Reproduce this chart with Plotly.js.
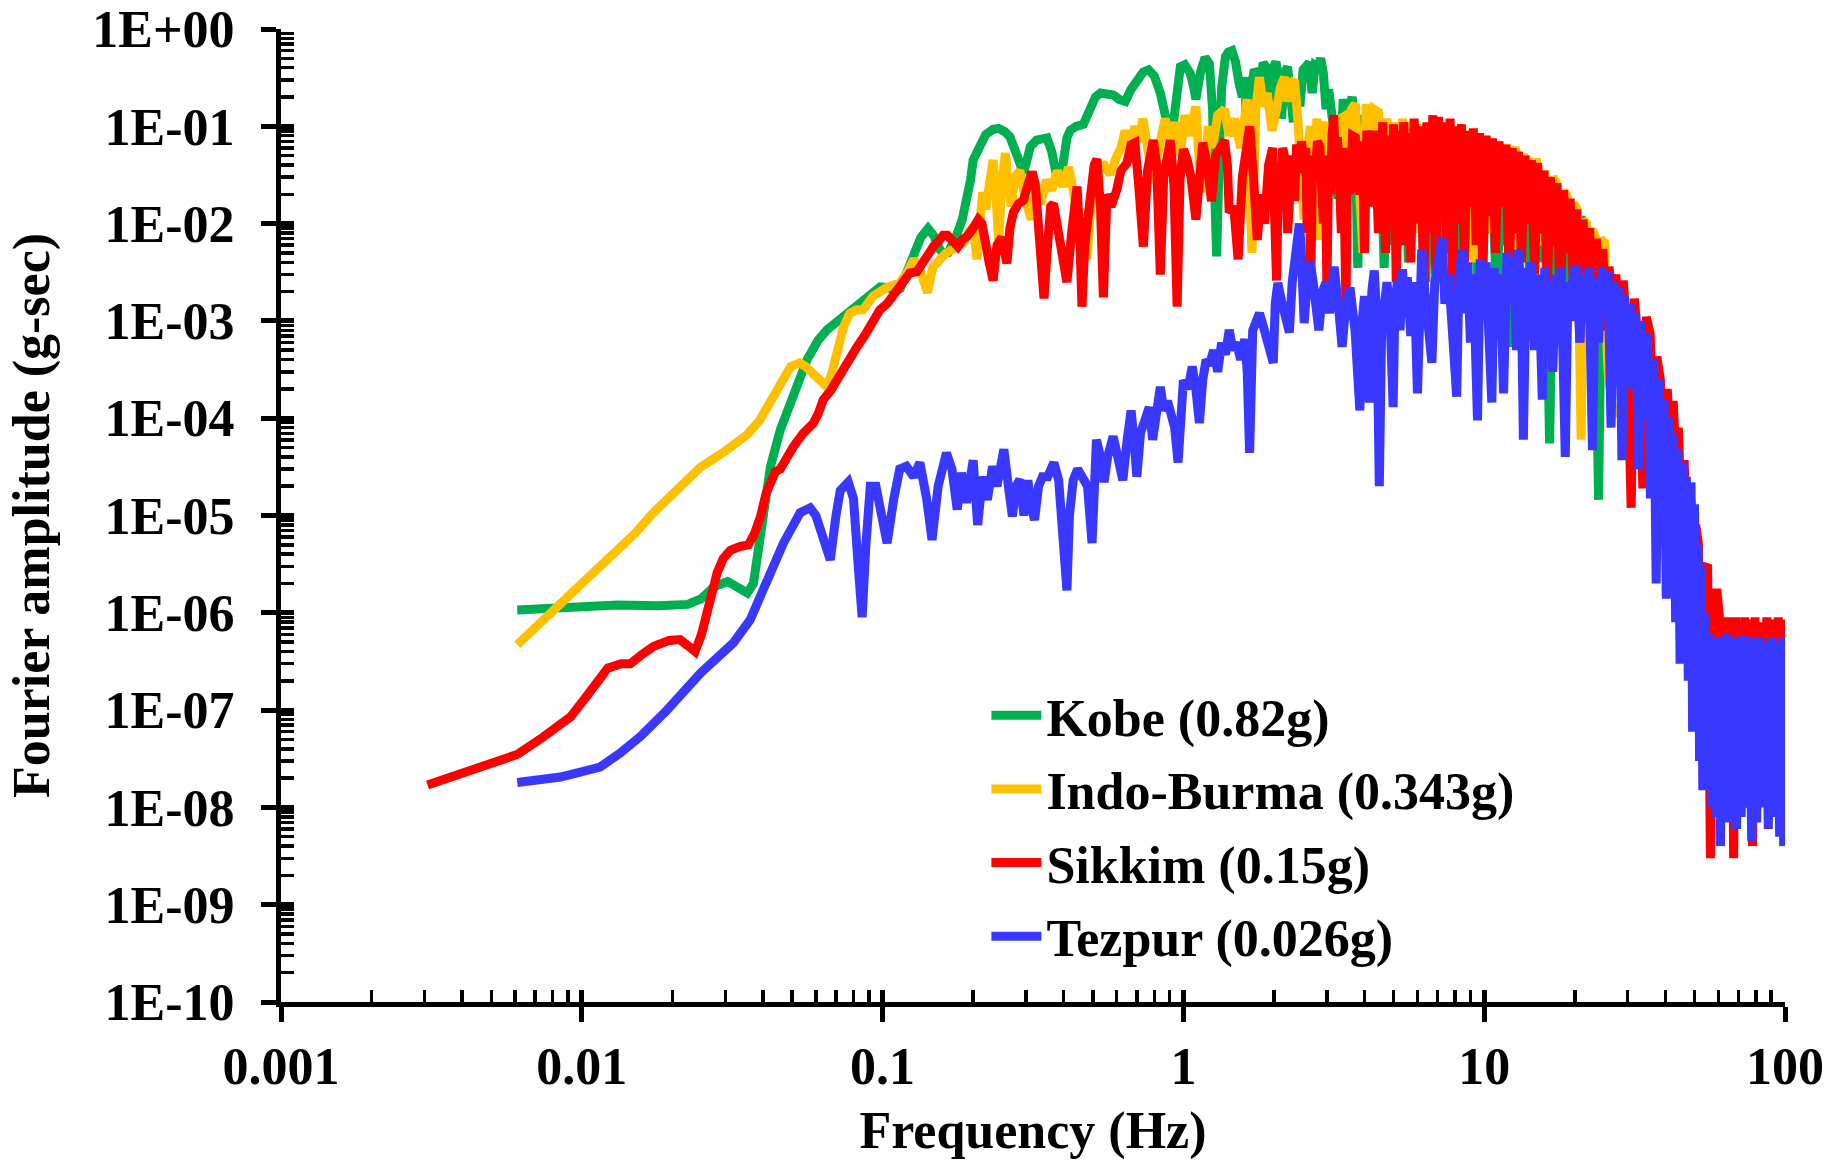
<!DOCTYPE html>
<html>
<head>
<meta charset="utf-8">
<script src="https://cdn.plot.ly/plotly-3.0.1.min.js"></script>
<style>html,body{margin:0;padding:0;background:#fff;}#chart{width:1833px;height:1163px;}</style>
</head>
<body>
<div id="chart"></div>
<script>
// ---- Data (frequency Hz, Fourier amplitude g-sec) ----
const seriesNames = ["Kobe (0.82g)", "Indo-Burma (0.343g)", "Sikkim (0.15g)", "Tezpur (0.026g)"];
const seriesColors = ["#00B050", "#FFC000", "#FF0000", "#3838FF"];

const kobe = [
[0.0061,1.07e-6],[0.008,1.12e-6],[0.0105,1.17e-6],[0.0131,1.2e-6],[0.018,1.18e-6],[0.0225,1.22e-6],[0.025,1.4e-6],[0.0275,1.85e-6],[0.0305,2.1e-6],[0.033,1.85e-6],[0.0355,1.6e-6],[0.0372,2e-6],[0.0383,3.5e-6],[0.0401,1.07e-5],[0.0424,3.2e-5],[0.0457,7.6e-5],[0.05,1.7e-4],[0.0532,2.6e-4],[0.0561,4e-4],[0.061,6.3e-4],[0.0654,8.1e-4],[0.071,1.0e-3],[0.0762,1.2e-3],[0.083,1.5e-3],[0.0889,1.8e-3],[0.094,2.1e-3],[0.0982,2.24e-3],[0.105,2.2e-3],[0.11,2.0e-3],[0.1144,2.15e-3],[0.12,3.0e-3],[0.1264,4.6e-3],[0.134,7.2e-3],[0.1416,8.9e-3],[0.148,7.5e-3],[0.155,5.4e-3],[0.16,4.9e-3],[0.165,5.0e-3],[0.172,6.3e-3],[0.177,7.9e-3],[0.184,1.1e-2],[0.191,1.74e-2],[0.196,2.8e-2],[0.2,4.5e-2],[0.21,6.5e-2],[0.22,8.2e-2],[0.233,9.3e-2],[0.243,9.5e-2],[0.255,8.8e-2],[0.265,7.8e-2],[0.28,5e-2],[0.294,3.3e-2],[0.302,4.5e-2],[0.31,6.2e-2],[0.325,7.2e-2],[0.338,7.6e-2],[0.352,7.6e-2],[0.365,5.5e-2],[0.378,3.2e-2],[0.39,2.7e-2],[0.4,4.5e-2],[0.41,7.6e-2],[0.421,9.1e-2],[0.44,1.0e-1],[0.465,1.05e-1],[0.48,1.3e-1],[0.491,1.6e-1],[0.51,2.0e-1],[0.53,2.2e-1],[0.555,2.15e-1],[0.585,2.1e-1],[0.61,1.9e-1],[0.641,1.8e-1],[0.67,2.4e-1],[0.703,3.0e-1],[0.735,3.6e-1],[0.766,3.8e-1],[0.8,3.3e-1],[0.838,2.2e-1],[0.86,1.4e-1],[0.89,9.5e-2],[0.92,9.1e-2],[0.95,2.5e-1],[0.977,4.1e-1],[1.01,4.3e-1],[1.054,3.5e-1],[1.08,2.6e-1],[1.1,1.9e-1],[1.14,3.6e-1],[1.18,5.1e-1],[1.22,4.4e-1],[1.25,1.5e-1],[1.27,2.2e-2],[1.29,4.6e-3],[1.31,3e-2],[1.34,2.5e-1],[1.38,5.2e-1],[1.41,5.8e-1],[1.45,6.0e-1],[1.49,4.6e-1],[1.53,2.8e-1],[1.57,2.0e-1],[1.6,3.2e-1],[1.64,3.5e-2],[1.68,2.5e-1],[1.72,3.8e-1],[1.76,3.5e-1],[1.8,2.0e-1],[1.84,4.5e-1],[1.88,4.1e-1],[1.93,1.5e-1],[1.98,3.9e-1],[2.03,4.6e-1],[2.08,3.2e-1],[2.12,1.2e-1],[2.17,3.5e-1],[2.22,4.1e-1],[2.27,2.5e-1],[2.32,1.1e-1],[2.38,3.0e-1],[2.44,1.6e-1],[2.5,3.8e-1],[2.56,4.3e-1],[2.62,4.5e-1],[2.68,2.2e-1],[2.74,4.2e-1],[2.8,4.0e-1],[2.86,5.0e-1],[2.92,3.5e-1],[2.98,1.5e-1],[3.04,2.4e-1],[3.1,1.5e-1],[3.18,8e-2],[3.26,1.8e-2],[3.32,1e-1],[3.4,1.9e-1],[3.48,1.2e-1],[3.56,1.8e-1],[3.64,2.0e-1],[3.72,1.0e-1],[3.8,3.5e-3],[3.9,6e-2],[4.0,1.3e-1],[4.1,8e-2],[4.2,1.4e-1],[4.35,5e-2],[4.5,1.1e-1],
[4.65,3.5e-3],[4.8,9e-2],[4.95,6e-3],[5.1,8e-2],[5.3,1.2e-2],[5.45,7e-2],[5.6,4e-3],[5.8,8.5e-2],[6.0,1.5e-2],[6.2,7e-2],[6.4,2.5e-3],[6.6,6e-2],[6.8,1e-2],[7.0,7.5e-2],[7.25,3e-3],[7.5,6e-2],[7.75,8e-3],[8.0,6.5e-2],[8.3,1.5e-3],[8.6,5.5e-2],[8.9,7e-3],[9.2,5.5e-2],[9.5,2e-3],[9.8,5e-2],[10.2,8e-3],[10.6,4.5e-2],[11.0,1.5e-3],[11.4,4e-2],[11.8,6e-3],[12.2,4e-2],[12.5,5.4e-4],[12.9,3.5e-2],[13.3,5e-3],[13.8,3e-2],[14.3,1.2e-3],[14.8,2.8e-2],[15.3,4e-3],[15.9,2.4e-2],[16.5,5.5e-5],[17.0,2e-2],[17.6,2e-3],[18.2,1.8e-2],[18.8,8e-4],[19.5,1.5e-2],[20.2,2.5e-3],[21.0,1.2e-2],[21.8,6e-4],[22.6,9e-3],[23.4,1.5e-3],[24.0,1.45e-5],[24.6,5e-3],[25.4,2e-3],[26.5,3e-3],[28,6e-4],[30,1e-3],[33,2e-4],[36,1e-4],[40,2e-5]
];

const indoBurma = [
[0.0061,4.7e-7],[0.0082,1.15e-6],[0.0105,2.3e-6],[0.0127,4e-6],[0.015,6.5e-6],[0.0173,1.07e-5],[0.0205,1.8e-5],[0.0247,3.1e-5],[0.03,4.6e-5],[0.0355,6.8e-5],[0.039,9.5e-5],[0.0431,1.6e-4],[0.0466,2.5e-4],[0.0495,3.4e-4],[0.053,3.7e-4],[0.0555,3.4e-4],[0.06,2.7e-4],[0.0654,2.1e-4],[0.068,3e-4],[0.0706,5e-4],[0.074,8.5e-4],[0.0778,1.2e-3],[0.082,1.3e-3],[0.086,1.3e-3],[0.093,1.8e-3],[0.103,2.2e-3],[0.114,2.45e-3],[0.121,3.2e-3],[0.127,4.3e-3],[0.134,3.2e-3],[0.141,1.95e-3],[0.147,3.6e-3],[0.155,4.3e-3],[0.163,5e-3],[0.172,5.5e-3],[0.185,6.3e-3],[0.193,8e-3],[0.2,9.3e-3],[0.206,4.3e-3],[0.21,1.2e-2],[0.215,2.1e-2],[0.22,1.4e-2],[0.226,3e-2],[0.233,4.5e-2],[0.238,2e-2],[0.243,6.8e-3],[0.249,2.5e-2],[0.256,5.3e-2],[0.262,2.5e-2],[0.268,1.5e-2],[0.275,3e-2],[0.286,3.5e-2],[0.298,1.8e-2],[0.312,1.1e-2],[0.322,2.2e-2],[0.335,1.6e-2],[0.35,2.8e-2],[0.365,2.2e-2],[0.381,3.5e-2],[0.398,2.4e-2],[0.415,3.8e-2],[0.435,1.7e-2],[0.455,1e-2],[0.478,4.3e-3],[0.492,1.5e-2],[0.51,3e-2],[0.54,4.2e-2],[0.57,3.2e-2],[0.6,4.9e-2],[0.62,6e-2],[0.64,9e-2],[0.665,6e-2],[0.69,1.0e-1],[0.715,7e-2],[0.733,1.2e-1],[0.76,6e-2],[0.795,2.6e-2],[0.83,6e-2],[0.87,1.2e-1],[0.905,7e-2],[0.94,1.1e-1],[0.975,5e-2],[1.01,1.3e-1],[1.05,8e-2],[1.1,1.6e-1],[1.13,4e-2],[1.17,2.1e-2],[1.21,1e-1],[1.25,6e-2],[1.3,1.3e-1],[1.37,1.5e-1],[1.42,8e-2],[1.48,1.2e-1],[1.55,6e-2],[1.63,1.9e-1],[1.69,5e-3],[1.74,1.5e-1],[1.79,3.2e-1],[1.84,1.6e-1],[1.9,2.2e-1],[1.97,9e-2],[2.04,1.5e-1],[2.1,2.5e-1],[2.17,3.2e-1],[2.22,1.8e-1],[2.28,2.8e-1],[2.34,3.0e-1],[2.4,1.2e-1],[2.46,3.5e-2],[2.52,1.1e-2],[2.58,6e-2],[2.65,1.0e-1],[2.72,4e-2],[2.78,1.2e-1],[2.84,6.8e-3],[2.9,8e-2],[2.98,1.1e-1],[3.06,3e-2],[3.15,1.1e-1],[3.24,4e-2],[3.33,1.2e-1],[3.42,1.26e-1],[3.52,2e-2],[3.62,1.5e-1],[3.73,1.7e-1],[3.84,3e-2],[3.95,5e-3],[4.05,1.7e-1],[4.15,6e-2],[4.3,1.5e-1],[4.45,1.4e-1],
[4.6,2e-2],[4.75,1.2e-1],[4.9,4e-2],[5.05,1.1e-1],[5.2,1.5e-2],[5.35,1.2e-1],[5.5,5e-2],[5.7,1.1e-1],[5.9,8e-3],[6.1,1.05e-1],[6.3,3e-2],[6.5,1e-1],[6.7,1.2e-2],[6.9,9.5e-2],[7.1,4e-2],[7.35,1e-1],[7.6,6e-3],[7.85,9e-2],[8.1,3e-2],[8.4,9e-2],[8.7,1.5e-2],[9.0,8.5e-2],[9.3,4e-3],[9.6,8e-2],[9.9,2e-2],[10.3,7.5e-2],[10.7,8e-3],[11.1,7e-2],[11.5,2.5e-2],[11.9,6.5e-2],[12.3,3e-3],[12.7,6.2e-2],[13.1,1.5e-2],[13.5,5e-2],[13.9,4.5e-2],[14.4,2e-2],[14.9,4.7e-2],[15.4,6e-3],[15.9,3.5e-2],[16.4,1.2e-2],[16.9,3e-2],[17.4,2.6e-2],[17.9,5e-3],[18.4,2.2e-2],[18.9,1.9e-2],[19.4,8e-3],[19.9,1.6e-2],[20.4,1.4e-2],[21.0,6e-5],[21.4,1.1e-2],[21.9,1e-2],[22.4,3e-3],[22.9,8.5e-3],[23.4,7.5e-3],[23.9,2e-3],[24.4,7e-3],[24.9,6.5e-3],[25.2,6.3e-3],[25.4,1e-3],[25.8,3e-4],[27,1e-4]
];

const sikkim = [
[0.00307,1.7e-8],[0.004,2.2e-8],[0.00471,2.6e-8],[0.0061,3.5e-8],[0.00745,5.3e-8],[0.00917,8.5e-8],[0.0104,1.4e-7],[0.0113,2e-7],[0.0122,2.7e-7],[0.0135,3e-7],[0.0145,3e-7],[0.0158,3.7e-7],[0.0173,4.5e-7],[0.0195,5.2e-7],[0.0212,5.3e-7],[0.0225,4.6e-7],[0.0238,4e-7],[0.025,6e-7],[0.0261,1e-6],[0.027,1.8e-6],[0.0282,2.6e-6],[0.0295,3.6e-6],[0.0312,4.4e-6],[0.0335,4.8e-6],[0.0358,5e-6],[0.0375,6.5e-6],[0.0393,9.8e-6],[0.041,1.7e-5],[0.0424,2.3e-5],[0.044,2.8e-5],[0.0457,3e-5],[0.048,4e-5],[0.0505,5.1e-5],[0.0545,7e-5],[0.0589,8.9e-5],[0.061,1.1e-4],[0.0635,1.55e-4],[0.067,1.9e-4],[0.0723,2.9e-4],[0.078,4.2e-4],[0.0822,5.4e-4],[0.0875,7.2e-4],[0.093,9.5e-4],[0.098,1.3e-3],[0.1035,1.5e-3],[0.11,2e-3],[0.117,2.6e-3],[0.123,3.1e-3],[0.13,3.2e-3],[0.136,4e-3],[0.141,4.8e-3],[0.148,5.9e-3],[0.155,6.8e-3],[0.159,7.6e-3],[0.164,7.6e-3],[0.17,6.5e-3],[0.178,5.8e-3],[0.184,6.8e-3],[0.191,7.4e-3],[0.2,9e-3],[0.208,1.1e-2],[0.214,1e-2],[0.22,7e-3],[0.226,4e-3],[0.233,2.6e-3],[0.24,6e-3],[0.249,7.2e-3],[0.255,5e-3],[0.259,3.9e-3],[0.265,9e-3],[0.272,1.3e-2],[0.283,1.6e-2],[0.294,1.74e-2],[0.304,2.5e-2],[0.314,3.4e-2],[0.322,2.5e-2],[0.33,8e-3],[0.338,2.5e-3],[0.344,1.7e-3],[0.352,5e-3],[0.362,1.5e-2],[0.37,1.6e-2],[0.38,1e-2],[0.395,5e-3],[0.41,2.5e-3],[0.425,8e-3],[0.435,1.8e-2],[0.443,2.4e-2],[0.452,8e-3],[0.46,1.4e-3],[0.47,6e-3],[0.49,2.5e-2],[0.505,4e-2],[0.516,4.6e-2],[0.53,1.5e-2],[0.542,1.75e-3],[0.557,2e-2],[0.575,1.5e-2],[0.6,2.2e-2],[0.62,3.5e-2],[0.649,4.2e-2],[0.67,6.5e-2],[0.69,6.8e-2],[0.71,2.5e-2],[0.736,5.8e-3],[0.76,3.5e-2],[0.794,7.2e-2],[0.815,4e-2],[0.838,3e-3],[0.86,3e-2],[0.904,7.2e-2],[0.93,2.5e-2],[0.953,1.4e-3],[0.975,3e-2],[1.0,5.8e-2],[1.03,4.5e-2],[1.06,3e-2],[1.1,1.1e-2],[1.13,4e-2],[1.16,6.8e-2],[1.2,4e-2],[1.24,1.7e-2],[1.28,5e-2],[1.33,6.5e-2],[1.37,7.2e-2],[1.4,4e-2],[1.42,1.3e-2],[1.47,1.5e-2],[1.52,4.3e-3],[1.57,3e-2],[1.62,8e-2],[1.66,1e-1],[1.71,3e-2],[1.76,6.8e-3],[1.81,2e-2],[1.86,1e-2],[1.92,4e-2],[1.98,6e-2],
[2.04,2.6e-3],[2.07,3e-2],[2.1,2e-2],[2.14,6e-2],[2.18,4.5e-2],[2.22,8e-3],[2.26,1.7e-2],[2.3,5e-2],[2.34,1.7e-2],[2.38,6.5e-2],[2.43,3.3e-2],[2.47,7e-2],[2.52,3.3e-2],[2.55,6e-2],[2.58,8e-3],[2.62,4e-2],[2.65,2.2e-3],[2.69,5e-2],[2.74,3e-2],[2.79,7e-2],[2.84,6.2e-2],[2.88,2.5e-2],[2.92,1e-2],[2.96,5e-2],[3.0,2.2e-3],[3.04,4e-2],[3.08,2e-2],[3.12,8e-2],[3.16,1.3e-1],[3.2,4e-2],[3.25,7.7e-2],[3.3,3e-2],[3.35,8e-3],[3.4,6e-2],[3.47,1.5e-3],[3.52,5e-2],[3.58,2e-2],[3.65,8e-2],[3.73,7.7e-2],[3.79,3e-2],[3.86,2e-2],[3.93,7e-2],[4.0,5e-3],[4.07,9e-2],[4.15,6e-2],[4.22,1.5e-2],[4.3,9e-2],[4.37,4e-2],[4.45,8e-3],
[4.6,1.1e-1],[4.7,5e-3],[4.8,8e-2],[4.9,1.2e-2],[5.0,1.05e-1],[5.1,2.5e-3],[5.2,9e-2],[5.3,6e-3],[5.4,1.1e-1],[5.5,2e-2],[5.6,8.5e-2],[5.7,4e-3],[5.85,1.2e-1],[6.0,1e-2],[6.15,1e-1],[6.3,1.5e-3],[6.45,1.1e-1],[6.6,8e-3],[6.75,1.3e-1],[6.9,3e-3],[7.05,1.25e-1],[7.2,1.2e-2],[7.35,1.1e-1],[7.5,5e-3],[7.7,1.2e-1],[7.85,2e-3],[8.0,1e-1],[8.2,1e-2],[8.4,1.05e-1],[8.6,4e-3],[8.8,9e-2],[9.0,1.5e-2],[9.2,9.5e-2],[9.4,6e-3],[9.65,8.5e-2],[9.9,3e-3],[10.15,8e-2],[10.4,1.2e-2],[10.65,7.5e-2],[10.9,5e-3],[11.2,7e-2],[11.5,1.5e-2],[11.8,6.5e-2],[12.1,2.5e-3],[12.4,6e-2],[12.7,8e-3],[13.0,5.5e-2],[13.3,4e-3],[13.65,5e-2],[14.0,1e-2],[14.35,4.5e-2],[14.7,3e-3],[15.05,4.2e-2],[15.4,8e-3],[15.8,3.5e-2],[16.2,2e-3],[16.6,3e-2],[17.0,6e-3],[17.45,2.6e-2],[17.9,1.5e-3],[18.35,2.2e-2],[18.8,5e-3],[19.3,1.8e-2],[19.8,2e-3],[20.3,1.4e-2],[20.8,6e-4],[21.3,1.1e-2],[21.8,3e-3],[22.4,9e-3],[23.0,1e-3],[23.6,7e-3],[24.2,2e-3],[24.8,5.5e-3],[25.4,8e-4],[26.0,3.6e-3],[26.7,1.5e-3],[27.4,3e-3],[28.2,4e-4],[29.0,2.6e-3],[29.8,8e-4],[30.8,1.2e-5],[31.6,1.7e-3],[32.5,5e-4],[33.7,1.9e-5],[34.6,1.1e-3],[35.6,7.4e-4],[36.5,1e-4],[37.5,4.3e-4],[38.5,2.5e-4],[39.5,3e-5],[40.6,2e-4],[41.5,5e-5],[42.5,1.5e-4],[43.5,3e-5],[44.2,8e-5],[45.2,1e-5],[46.2,3.7e-5],[47.2,5e-6],[48.0,2e-5],[48.7,1.4e-5],[49.5,2e-6],[50.5,8e-6],[51.5,5.2e-6],[52.6,1e-7],[53.5,3e-6],[55.3,2.9e-6],[56.5,3e-9],[57.5,1.6e-6],[59.5,1.6e-6],
[60.5,9e-7],[61.5,1e-8],[62.5,8e-7],[63.5,3e-8],[64.5,9e-7],[65.5,1e-8],[66.5,8.5e-7],[67.5,3e-9],[68.5,9e-7],[69.5,1.5e-8],[70.5,8e-7],[72,1.5e-8],[73.5,9e-7],[75,1e-8],[76.5,8.5e-7],[78,4e-9],[79.5,9e-7],[81,1e-8],[83,8e-7],[85,1.2e-8],[87,9e-7],[89,8e-9],[91,8.5e-7],[93,2e-8],[95,9e-7],[97,1e-8],[99,8.5e-7],[100,2e-8]
];

const tezpur = [
[0.0061,1.8e-8],[0.0085,2.05e-8],[0.0115,2.6e-8],[0.0134,3.6e-8],[0.0157,5.4e-8],[0.0192,1e-7],[0.0248,2.4e-7],[0.0319,4.9e-7],[0.0363,8.5e-7],[0.0414,2.2e-6],[0.0468,5.2e-6],[0.0532,1.07e-5],[0.0574,1.2e-5],[0.06,1e-5],[0.0635,6e-6],[0.067,3.5e-6],[0.07,1e-5],[0.0723,1.8e-5],[0.0769,2.2e-5],[0.08,1.5e-5],[0.083,3e-6],[0.0855,9e-7],[0.088,5e-6],[0.091,2e-5],[0.095,2e-5],[0.0985,1e-5],[0.1035,5.2e-6],[0.109,1.5e-5],[0.114,3e-5],[0.12,3.2e-5],[0.127,2.5e-5],[0.133,3.5e-5],[0.14,1.5e-5],[0.146,5.6e-6],[0.153,2e-5],[0.163,4.4e-5],[0.17,3e-5],[0.177,1.15e-5],[0.183,2.75e-5],[0.19,1.35e-5],[0.2,3.7e-5],[0.207,8e-6],[0.215,2.5e-5],[0.223,1.45e-5],[0.232,3.2e-5],[0.24,2e-5],[0.253,4.8e-5],[0.262,2e-5],[0.27,9.8e-6],[0.278,2e-5],[0.286,2.35e-5],[0.295,1e-5],[0.304,2.3e-5],[0.312,1.3e-5],[0.32,9e-6],[0.33,2e-5],[0.34,2.5e-5],[0.354,2.5e-5],[0.371,3.5e-5],[0.385,2.3e-5],[0.395,1e-5],[0.403,3e-6],[0.41,1.7e-6],[0.418,1e-5],[0.43,2.3e-5],[0.445,3e-5],[0.46,2.5e-5],[0.48,2e-5],[0.497,5.2e-6],[0.505,2e-5],[0.514,6e-5],[0.53,4e-5],[0.545,2.2e-5],[0.56,4e-5],[0.584,6.5e-5],[0.605,4e-5],[0.629,2.3e-5],[0.65,6e-5],[0.67,1.2e-4],[0.685,6e-5],[0.7,2.5e-5],[0.72,7e-5],[0.745,1e-4],[0.77,1.3e-4],[0.79,6e-5],[0.81,1e-4],[0.838,2.1e-4],[0.86,1.2e-4],[0.885,1.5e-4],[0.91,1.1e-4],[0.935,8e-5],[0.96,3.5e-5],[0.98,1.4e-4],[1.0,2.45e-4],[1.035,2e-4],[1.07,3.4e-4],[1.1,2e-4],[1.13,8.9e-5],[1.16,2.5e-4],[1.19,4e-4],[1.22,3.5e-4],[1.26,5e-4],[1.3,3e-4],[1.34,6e-4],[1.38,4.5e-4],[1.42,8.1e-4],[1.46,5e-4],[1.5,6e-4],[1.55,4e-4],[1.6,6.5e-4],[1.63,3e-4],[1.66,4.4e-5],[1.7,8e-4],[1.75,1e-3],[1.79,1.2e-3],[1.84,9e-4],[1.9,6e-4],[1.99,3.7e-4],[2.02,1.5e-3],[2.06,2.45e-3],[2.12,1.6e-3],[2.18,1.2e-3],[2.25,7.6e-4],[2.3,2.5e-3],[2.35,5e-3],[2.4,8e-3],[2.43,1e-2],[2.46,6e-3],[2.49,2e-3],[2.52,9.5e-4],[2.58,2.5e-3],[2.64,4e-3],[2.7,2.5e-3],[2.76,1.5e-3],[2.82,8e-4],[2.9,2e-3],[2.98,2.5e-3],[3.06,1.2e-3],[3.17,3.6e-3],[3.27,1.5e-3],[3.37,5.4e-4],[3.47,1.5e-3],[3.58,2.2e-3],[3.72,8e-4],[3.86,1.2e-4],[3.93,1e-3],[4.0,1.8e-3],[4.08,6e-4],[4.15,1.45e-4],[4.23,2e-3],[4.31,3.3e-3],[4.4,1e-3],[4.48,2e-5],[4.56,8e-4],[4.65,1.8e-3],[4.75,2.5e-3],[4.86,1.2e-3],[4.98,1.3e-4],[5.05,1.5e-3],[5.15,2.6e-3],[5.25,8e-4],[5.35,3.4e-3],[5.45,1.2e-3],[5.55,2.8e-3],[5.7,7e-4],[5.85,2.5e-3],[6.0,1.8e-4],[6.1,1.5e-3],[6.2,5.4e-3],[6.35,2e-3],[6.5,8e-4],[6.7,3.7e-4],[6.85,2.5e-3],[7.0,4e-3],[7.25,7.2e-3],[7.4,1.5e-3],[7.6,3e-3],[7.8,1e-3],[8.1,1.66e-4],[8.25,3e-3],[8.45,5.4e-3],[8.6,1.2e-3],[8.8,4e-3],[9.0,6e-4],[9.2,3e-3],[9.5,9.5e-5],[9.7,4.3e-3],[9.9,2e-3],[10.15,4e-3],[10.35,8e-4],[10.6,1.45e-4],[10.8,3.5e-3],[11.0,1.5e-3],[11.3,3e-3],[11.6,1.8e-4],[11.9,5e-3],[12.2,2e-3],[12.5,4.5e-3],[12.8,5e-4],[13.0,5.4e-3],[13.3,1.5e-3],[13.5,6e-5],[13.8,3.5e-3],[14.0,1e-3],[14.3,4e-3],[14.7,5e-4],[15.0,3e-3],[15.3,1.2e-3],[15.6,1.55e-4],[15.9,3.5e-3],[16.2,8e-4],[16.5,2.6e-3],[16.9,3e-4],[17.3,3e-3],[17.7,1.2e-3],[18.0,3.5e-3],[18.6,4e-5],[19.0,2.5e-3],[19.4,1e-3],[19.8,3.2e-3],[20.3,3.6e-3],[20.8,6e-4],[21.3,3e-3],[21.8,1.2e-3],[22.3,3.5e-3],[22.9,4.7e-5],[23.4,2.8e-3],[24.0,6e-4],[24.6,3.5e-3],[25.2,1.5e-3],[25.8,3.2e-3],[26.4,8e-5],[27.0,2.5e-3],[27.6,7e-4],[28.2,2.2e-3],[28.7,3.7e-5],[29.3,1.8e-3],[29.9,5e-4],[30.6,1.5e-3],[31.2,2e-4],[31.9,1.2e-3],[32.6,3e-5],[33.3,1e-3],[34.0,1e-4],[34.9,7.4e-4],[35.7,1.5e-5],[36.6,4e-4],[37.3,2e-6],[38.0,2.5e-4],[38.8,2e-5],[39.6,1.55e-4],[40.3,1.4e-6],[41.0,1e-4],[41.8,5e-6],[42.6,7e-5],[43.3,8e-7],[44.0,4.7e-5],[44.8,3e-7],[45.6,3.5e-5],[46.3,1e-6],[47.0,2.5e-5],[47.7,2e-7],[48.7,2.2e-5],[49.3,6e-8],[50.0,1.3e-5],[50.7,1e-7],[51.4,5e-6],[52.0,3e-8],[52.6,3e-6],[53.3,1.5e-8],[54.0,1e-6],[55,2e-8],[56,6e-7],[57,1e-8],
[58,5.6e-7],[59,8e-9],[60,5e-7],[61,4e-9],[62,5.5e-7],[63,1e-8],[64,6e-7],[65,7e-9],[66,5e-7],[67,1.2e-8],[68,5.5e-7],[69,6e-9],[70,5e-7],[71.5,8e-9],[73,5.8e-7],[74.5,1e-8],[76,5e-7],[77.5,4.5e-9],[79,5.5e-7],[80.5,7e-9],[82,5.6e-7],[84,1e-8],[86,5e-7],[88,6e-9],[90,5.5e-7],[92,8e-9],[94,5e-7],[96,5e-9],[98,5.5e-7],[99,4e-9],[100,5e-7]
];

const yTickVals = [1e0,1e-1,1e-2,1e-3,1e-4,1e-5,1e-6,1e-7,1e-8,1e-9,1e-10];
const yTickText = ["1E+00","1E-01","1E-02","1E-03","1E-04","1E-05","1E-06","1E-07","1E-08","1E-09","1E-10"];
const xTickVals = [0.001,0.01,0.1,1,10,100];
const xTickText = ["0.001","0.01","0.1","1","10","100"];

// ---- build ----
const allSeries = [kobe, indoBurma, sikkim, tezpur];
const traces = allSeries.map((s, i) => ({
  type: "scatter", mode: "lines", name: seriesNames[i], legendgroup: "g" + i,
  x: s.map(p => p[0]), y: s.map(p => p[1]),
  line: {color: seriesColors[i], width: 9},
  xaxis: "x", yaxis: "y"
}));
traces.push({type:"scatter", mode:"lines", x:[], y:[], xaxis:"x2", yaxis:"y2", showlegend:false, hoverinfo:"skip"});

function minorVals(lo, hi) {
  const v = [];
  for (let e = lo; e < hi; e++) for (let m = 2; m <= 9; m++) v.push(m * Math.pow(10, e));
  return v;
}

const font = {family: "Liberation Serif, Times New Roman, serif", color: "#000", size: 52, weight: 700};

const layout = {
  width: 1833, height: 1163,
  margin: {l: 281, r: 48, t: 29, b: 161},
  paper_bgcolor: "#fff", plot_bgcolor: "#fff",
  font: font,
  showlegend: true,
  legend: {x: 0.469, y: 0.336, xanchor: "left", yanchor: "top", font: font,
           bgcolor: "rgba(0,0,0,0)", itemwidth: 50, tracegroupgap: 3, traceorder: "grouped"},
  xaxis: {
    type: "log", range: [-3, 2], showgrid: false, zeroline: false,
    showline: true, linecolor: "#000", linewidth: 5,
    ticks: "outside", ticklen: 15, tickwidth: 5, tickcolor: "#000",
    tickmode: "array", tickvals: xTickVals, ticktext: xTickText,
    tickfont: font, ticklabelstandoff: 0,
    minor: {ticks: "inside", ticklen: 12, tickwidth: 3.5, tickcolor: "#000", tickmode: "array", tickvals: minorVals(-3, 2), showgrid: false},
    title: {text: "Frequency (Hz)", font: font, standoff: 19}
  },
  yaxis: {
    type: "log", range: [-10, 0], showgrid: false, zeroline: false,
    showline: true, linecolor: "#000", linewidth: 5,
    ticks: "outside", ticklen: 15, tickwidth: 5, tickcolor: "#000",
    tickmode: "array", tickvals: yTickVals, ticktext: yTickText,
    tickfont: font, ticklabelstandoff: 16,
    minor: {ticks: "inside", ticklen: 13, tickwidth: 3.5, tickcolor: "#000", tickmode: "array", tickvals: minorVals(-10, 0), showgrid: false},
    title: {text: "Fourier amplitude (g-sec)", font: font, standoff: 28}
  },
  xaxis2: {type: "log", range: [-3, 2], overlaying: "x", anchor: "y", side: "bottom",
    showgrid: false, zeroline: false, showline: false, showticklabels: false,
    ticks: "inside", ticklen: 12, tickwidth: 5, tickcolor: "#000", tickmode: "array", tickvals: xTickVals},
  yaxis2: {type: "log", range: [-10, 0], overlaying: "y", anchor: "x", side: "left",
    showgrid: false, zeroline: false, showline: false, showticklabels: false,
    ticks: "inside", ticklen: 13, tickwidth: 5, tickcolor: "#000", tickmode: "array", tickvals: yTickVals}
};

Plotly.newPlot("chart", traces, layout, {staticPlot: true, displayModeBar: false});
</script>
</body>
</html>
